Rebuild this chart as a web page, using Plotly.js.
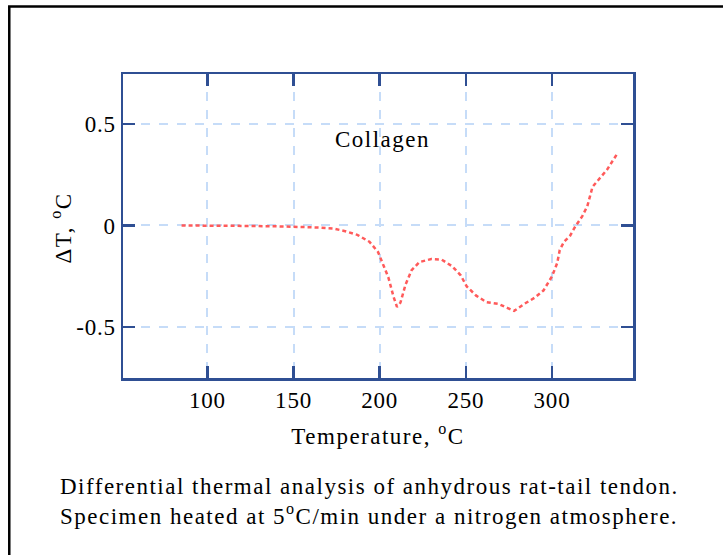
<!DOCTYPE html>
<html>
<head>
<meta charset="utf-8">
<script src="https://cdn.plot.ly/plotly-3.0.1.min.js"></script>
<style>
  html, body { margin: 0; padding: 0; background: #fff; }
  #chart { width: 723px; height: 555px; }
  #chart .main-svg text { letter-spacing: 1.5px; }
  #chart .main-svg .xtick text, #chart .main-svg .ytick text { letter-spacing: 0.8px; }
</style>
</head>
<body>
<div id="chart"></div>
<script>
const temperature = [85, 100, 120, 140, 155, 165, 173, 180, 187, 194, 199, 202, 205, 208, 210, 212, 215, 218.5, 223, 230, 236, 242, 247, 250.5, 256, 262, 269, 274, 278, 284, 290, 295, 300, 303, 304.5, 307, 310.5, 313.5, 317.5, 320.5, 322, 323.5, 327, 332, 338];
const deltaT = [0, 0, -0.002, -0.004, -0.006, -0.01, -0.015, -0.028, -0.046, -0.08, -0.13, -0.19, -0.255, -0.35, -0.40, -0.38, -0.29, -0.22, -0.18, -0.165, -0.168, -0.2, -0.245, -0.30, -0.345, -0.377, -0.386, -0.405, -0.42, -0.385, -0.355, -0.32, -0.25, -0.185, -0.12, -0.08, -0.05, -0.005, 0.045, 0.095, 0.145, 0.19, 0.225, 0.275, 0.355];
const xTicks = [100, 150, 200, 250, 300];
const yTicks = [-0.5, 0, 0.5];
const yTickLabels = ['-0.5', '0', '0.5'];
const seriesLabel = 'Collagen';
const xTitle = 'Temperature, <sup>o</sup>C';
const yTitle = '\u0394T, <sup>o</sup>C';
const caption = 'Differential thermal analysis of anhydrous rat-tail tendon.<br>Specimen heated at 5<sup>o</sup>C/min under a nitrogen atmosphere.';

const axisColor = '#2f4f93';
const gridColor = '#c6dcf8';
const font = {family: '"Liberation Serif", serif', size: 23, color: '#000'};

const trace = {
  x: temperature, y: deltaT, type: 'scatter', mode: 'lines',
  line: {color: '#ff5a5a', width: 2.5, dash: '4px,3px'},
  hoverinfo: 'skip', showlegend: false
};

const layout = {
  width: 723, height: 555,
  margin: {l: 123, r: 90, t: 74, b: 177},
  paper_bgcolor: '#fff', plot_bgcolor: '#fff',
  font: font,
  showlegend: false,
  xaxis: {
    range: [51, 347], tickvals: xTicks, ticks: 'inside', ticklen: 12, tickwidth: 2.5,
    tickcolor: axisColor, showline: true, linecolor: axisColor, linewidth: 2.5, mirror: 'ticks',
    showgrid: true, gridcolor: gridColor, gridwidth: 2, griddash: 'dash', zeroline: false,
    tickfont: font, ticklabelstandoff: 0,
    title: {text: xTitle, font: font, standoff: 16}
  },
  yaxis: {
    range: [-0.75, 0.745], tickvals: yTicks, ticktext: yTickLabels, ticks: 'inside', ticklen: 12, tickwidth: 2.5,
    tickcolor: axisColor, showline: true, linecolor: axisColor, linewidth: 2.5, mirror: 'ticks',
    showgrid: true, gridcolor: gridColor, gridwidth: 2, griddash: 'dash', zeroline: false,
    tickfont: font, ticklabelstandoff: 0
  },
  annotations: [
    {x: 202, y: 0.425, xref: 'x', yref: 'y', text: seriesLabel, showarrow: false, font: font},
    {x: -0.153, y: 0.495, xref: 'paper', yref: 'paper', textangle: -90, text: yTitle, showarrow: false, font: font},
    {x: -0.127, y: -0.31, xref: 'paper', yref: 'paper', xanchor: 'left', yanchor: 'top', align: 'left',
     text: caption, showarrow: false, font: font}
  ],
  shapes: [
    {type: 'rect', xref: 'paper', yref: 'paper', x0: -0.223, x1: 1.6, y0: -1, y1: 1.222,
     line: {color: '#000', width: 2.5}, fillcolor: 'rgba(0,0,0,0)', layer: 'below'}
  ]
};

Plotly.newPlot('chart', [trace], layout, {displayModeBar: false, staticPlot: true});
</script>
</body>
</html>
